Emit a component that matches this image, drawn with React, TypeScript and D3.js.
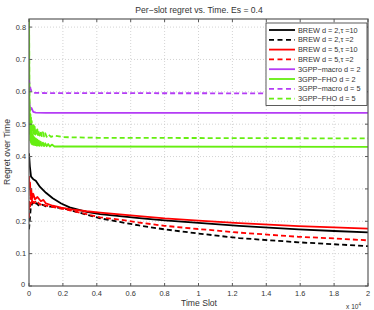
import React from 'react';
import * as d3 from 'd3';

// time slot, regret pairs
const brewD2T10: [number, number][] = [
  [0, 0.41], [50, 0.37], [120, 0.338], [250, 0.33], [400, 0.325], [650, 0.306],
  [1000, 0.288], [1400, 0.271], [1900, 0.255], [2400, 0.243], [3400, 0.229],
  [4200, 0.222], [5350, 0.216], [6500, 0.21], [8000, 0.203], [10000, 0.195],
  [12400, 0.186], [15900, 0.175], [18000, 0.17], [20000, 0.166],
];
const brewD2T2: [number, number][] = [
  [0, 0.175], [40, 0.2], [100, 0.24], [200, 0.258], [300, 0.25], [450, 0.256],
  [600, 0.247], [800, 0.251], [1000, 0.246], [1300, 0.245], [1700, 0.242],
  [2200, 0.238], [2800, 0.229], [3500, 0.219], [4200, 0.209], [5350, 0.198],
  [6500, 0.187], [8000, 0.175], [10000, 0.162], [12400, 0.148], [15900, 0.135],
  [18000, 0.129], [20000, 0.123],
];
const brewD5T10: [number, number][] = [
  [0, 0.34], [30, 0.3], [60, 0.32], [90, 0.28], [130, 0.3], [180, 0.27],
  [250, 0.285], [350, 0.268], [500, 0.275], [700, 0.262], [850, 0.266], [1000, 0.255],
  [1400, 0.248], [1900, 0.242], [2500, 0.237], [3400, 0.231], [4200, 0.227],
  [5350, 0.221], [6500, 0.216], [8000, 0.209], [10000, 0.202], [12400, 0.194],
  [15900, 0.185], [18000, 0.181], [20000, 0.177],
];
const brewD5T2: [number, number][] = [
  [0, 0.21], [30, 0.26], [60, 0.24], [100, 0.275], [150, 0.255], [200, 0.27],
  [300, 0.256], [450, 0.264], [650, 0.251], [800, 0.256], [900, 0.25], [1300, 0.245],
  [1800, 0.24], [2400, 0.234], [3400, 0.222], [4200, 0.212], [5350, 0.205],
  [6500, 0.196], [8000, 0.186], [10000, 0.176], [12400, 0.165], [15900, 0.152],
  [18000, 0.147], [20000, 0.141],
];
const macroD2: [number, number][] = [
  [0, 0.58], [40, 0.56], [80, 0.545], [150, 0.55], [250, 0.538], [400, 0.536],
  [1000, 0.535], [20000, 0.535],
];
const macroD5: [number, number][] = [
  [0, 0.64], [40, 0.62], [90, 0.61], [150, 0.6], [300, 0.597], [1000, 0.596],
  [20000, 0.595],
];
const fhoD2: [number, number][] = [
  [0, 0.9], [20, 0.6], [40, 0.47], [55, 0.52], [70, 0.45], [85, 0.5],
  [100, 0.445], [120, 0.485], [140, 0.44], [160, 0.475], [185, 0.438], [210, 0.468],
  [240, 0.437], [270, 0.462], [300, 0.436], [335, 0.458], [370, 0.435], [410, 0.455],
  [450, 0.434], [490, 0.452], [530, 0.434], [580, 0.449], [630, 0.433], [690, 0.446],
  [750, 0.433], [820, 0.443], [890, 0.432], [960, 0.441], [1040, 0.432], [1130, 0.439],
  [1230, 0.431], [1350, 0.437], [1500, 0.431], [2000, 0.431], [20000, 0.43],
];
const fhoD5: [number, number][] = [
  [0, 0.9], [20, 0.6], [40, 0.5], [55, 0.55], [70, 0.49], [85, 0.53],
  [100, 0.485], [120, 0.52], [140, 0.48], [160, 0.51], [185, 0.476], [210, 0.503],
  [240, 0.472], [270, 0.497], [300, 0.47], [335, 0.492], [370, 0.468], [410, 0.488],
  [450, 0.467], [490, 0.484], [530, 0.466], [580, 0.481], [630, 0.465], [690, 0.478],
  [750, 0.463], [820, 0.475], [890, 0.462], [960, 0.472], [1040, 0.461], [1130, 0.469],
  [1300, 0.461], [1500, 0.465], [2000, 0.46], [4000, 0.458], [20000, 0.456],
];

const xTicks = [0, 2000, 4000, 6000, 8000, 10000, 12000, 14000, 16000, 18000, 20000];
const xTickLabels = ['0', '0.2', '0.4', '0.6', '0.8', '1', '1.2', '1.4', '1.6', '1.8', '2'];
const yTicks = [0, 0.1, 0.2, 0.3, 0.4, 0.5, 0.6, 0.7, 0.8];
const yTickLabels = ['0', '0.1', '0.2', '0.3', '0.4', '0.5', '0.6', '0.7', '0.8'];

const PURPLE = '#b43cf5';
const GREEN = '#66ee11';

const series = [
  { name: 'BREW d = 2,\u03c4 =10', data: brewD2T10, color: '#000', dash: '' },
  { name: 'BREW d = 2,\u03c4 =2', data: brewD2T2, color: '#000', dash: '5,3' },
  { name: 'BREW d = 5,\u03c4 =10', data: brewD5T10, color: '#ff0000', dash: '' },
  { name: 'BREW d = 5,\u03c4 =2', data: brewD5T2, color: '#ff0000', dash: '5,3' },
  { name: '3GPP\u2212macro d = 2', data: macroD2, color: PURPLE, dash: '' },
  { name: '3GPP\u2212FHO d = 2', data: fhoD2, color: GREEN, dash: '' },
  { name: '3GPP\u2212macro d = 5', data: macroD5, color: PURPLE, dash: '5,3' },
  { name: '3GPP\u2212FHO d = 5', data: fhoD5, color: GREEN, dash: '5,3' },
];

const left = 29, right = 368, top = 19, bottom = 286;
const font = 'Liberation Sans, Arial, Helvetica, sans-serif';

export default function App() {
  const x = d3.scaleLinear().domain([0, 20000]).range([left, right]);
  const y = d3.scaleLinear().domain([0, 0.825]).range([bottom, top]);
  const line = d3.line<[number, number]>().x(d => x(d[0])).y(d => y(d[1]));

  const axisColor = '#5a5a5a';
  const textColor = '#333';
  const legX = 266, legY = 23, legW = 101, legRow = 9.8;

  return (
    <svg width={374} height={310} style={{ position: 'absolute', left: 0, top: 0, background: '#fff' }}
      fontFamily={font}>
      <defs>
        <clipPath id="plot">
          <rect x={left} y={top} width={right - left} height={bottom - top} />
        </clipPath>
      </defs>
      <rect x={0} y={0} width={374} height={310} fill="#fff" />
      <text x={199} y={13} fontSize={8.6} textAnchor="middle" fill={textColor}>
        Per{'\u2212'}slot regret vs. Time. Es = 0.4
      </text>

      {/* grid */}
      {xTicks.slice(1, -1).map(t => (
        <line key={'gx' + t} x1={x(t)} x2={x(t)} y1={top} y2={bottom}
          stroke="#c8c8c8" strokeWidth={0.8} strokeDasharray="1,2" />
      ))}
      {yTicks.slice(1).map(t => (
        <line key={'gy' + t} x1={left} x2={right} y1={y(t)} y2={y(t)}
          stroke="#c8c8c8" strokeWidth={0.8} strokeDasharray="1,2" />
      ))}

      {/* series */}
      <g clipPath="url(#plot)">
        {series.map(s => (
          <path key={s.name} d={line(s.data) || ''} fill="none" stroke={s.color}
            strokeWidth={1.8} strokeDasharray={s.dash} strokeLinejoin="round" />
        ))}
      </g>

      {/* axes box and ticks */}
      <rect x={left} y={top} width={right - left} height={bottom - top} fill="none"
        stroke={axisColor} strokeWidth={1.2} />
      {xTicks.map(t => (
        <g key={'tx' + t}>
          <line x1={x(t)} x2={x(t)} y1={bottom} y2={bottom - 3} stroke={axisColor} />
          <line x1={x(t)} x2={x(t)} y1={top} y2={top + 3} stroke={axisColor} />
        </g>
      ))}
      {yTicks.map(t => (
        <g key={'ty' + t}>
          <line x1={left} x2={left + 3} y1={y(t)} y2={y(t)} stroke={axisColor} />
          <line x1={right} x2={right - 3} y1={y(t)} y2={y(t)} stroke={axisColor} />
        </g>
      ))}
      {xTicks.map((t, i) => (
        <text key={'lx' + t} x={x(t)} y={296} fontSize={7.4} textAnchor="middle" fill={textColor}>
          {xTickLabels[i]}
        </text>
      ))}
      {yTicks.map((t, i) => (
        <text key={'ly' + t} x={i === 0 ? 25 : 26} y={y(t) + (i === 0 ? 1 : 2.6)} fontSize={7.4}
          textAnchor="end" fill={textColor}>
          {yTickLabels[i]}
        </text>
      ))}
      <text x={199} y={306} fontSize={8.6} textAnchor="middle" fill={textColor}>Time Slot</text>
      <text x={346} y={309} fontSize={6.6} fill={textColor}>
        x 10<tspan fontSize={4.6} dy={-3}>4</tspan>
      </text>
      <text transform={`translate(10,152) rotate(-90)`} fontSize={8.6} textAnchor="middle" fill={textColor}>
        Regret over Time
      </text>

      {/* legend */}
      <rect x={legX} y={legY} width={legW} height={legRow * 8 + 4} fill="#fff"
        stroke="#333" strokeWidth={0.8} />
      {series.map((s, i) => {
        const cy = legY + 7 + i * legRow;
        return (
          <g key={'lg' + s.name}>
            <line x1={legX + 3} x2={legX + 29} y1={cy} y2={cy} stroke={s.color}
              strokeWidth={1.8} strokeDasharray={s.dash ? '5,3.5' : ''} />
            <text x={legX + 32} y={cy + 2.6} fontSize={7.3} fill={textColor}>{s.name}</text>
          </g>
        );
      })}
    </svg>
  );
}
